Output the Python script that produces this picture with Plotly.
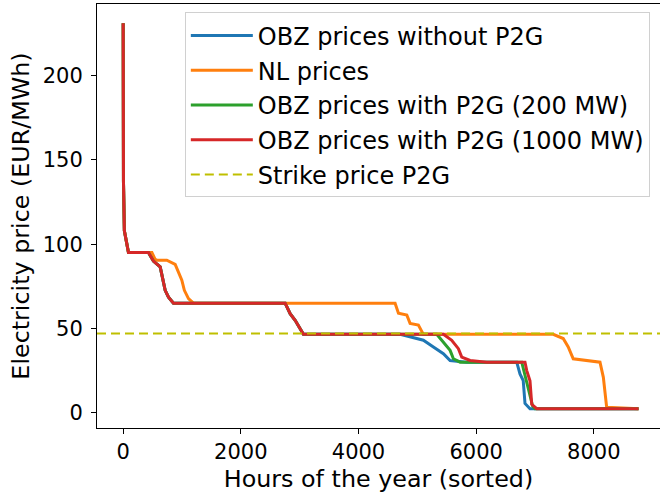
import plotly.graph_objects as go

# ---- data ----
common_hours = [0, 5, 20, 90, 430, 514, 629, 714, 770, 855, 2753, 2838, 2923, 3008, 3064]
common_prices = [231, 137, 108, 95, 95, 90, 86.5, 72.6, 68.6, 65, 65, 58.8, 54.8, 50, 46.5]

obz_no_p2g_hours = common_hours + [4707, 4900, 5103, 5273, 5443, 5557, 5840, 6690, 6745, 6800, 6830, 6915, 8760]
obz_no_p2g_prices = common_prices + [46.5, 45, 43, 39, 35, 31, 30, 30, 23, 19, 5.5, 2.4, 2.4]

nl_hours = [0, 5, 20, 90, 488, 544, 571, 741, 884, 997, 1040, 1110, 1195, 4622, 4679, 4821, 4877,
            5018, 5103, 7310, 7480, 7565, 7650, 7877, 8105, 8162, 8218, 8760]
nl_prices = [231, 137, 108, 95, 95, 91, 90.5, 90.5, 88, 78.6, 72.6, 67.7, 65, 65, 59, 58, 53,
             52, 46.5, 46.5, 44, 39, 32, 31, 30, 21, 3.3, 2.4]

obz_200_hours = common_hours + [5330, 5443, 5557, 5613, 5727, 6775, 6830, 6880, 6960, 7000, 8760]
obz_200_prices = common_prices + [46.5, 42, 37, 32, 30, 30, 22, 15, 4, 2.4, 2.4]

obz_1000_hours = common_hours + [5443, 5585, 5698, 5755, 5897, 6180, 6830, 6860, 6915, 6945, 7030, 8760]
obz_1000_prices = common_prices + [46.5, 43, 38, 33, 31, 30, 30, 25, 19, 5, 2.4, 2.4]

strike_price = 47

series_names = ["OBZ prices without P2G", "NL prices",
                "OBZ prices with P2G (200 MW)", "OBZ prices with P2G (1000 MW)"]
series_colors = ["#1f77b4", "#ff7f0e", "#2ca02c", "#d62728"]

x_range = [-445, 9125]
y_range = [-9.05, 242.45]

fig = go.Figure()
for i, (hx, py) in enumerate([(obz_no_p2g_hours, obz_no_p2g_prices),
                              (nl_hours, nl_prices),
                              (obz_200_hours, obz_200_prices),
                              (obz_1000_hours, obz_1000_prices)]):
    fig.add_trace(go.Scatter(x=hx, y=py, mode="lines", name=series_names[i],
                             legendgroup=f"g{i}",
                             line=dict(color=series_colors[i], width=3)))

fig.add_trace(go.Scatter(x=x_range, y=[strike_price, strike_price], mode="lines",
                         name="Strike price P2G", legendgroup="g4",
                         line=dict(color="#bfbf00", width=2, dash="9px,5px")))

fig.update_layout(
    width=660, height=493,
    margin=dict(l=97, r=0, t=4, b=65),
    paper_bgcolor="white", plot_bgcolor="white",
    font=dict(family="DejaVu Sans", color="black"),
    legend=dict(x=0.156, y=0.98, xanchor="left", yanchor="top",
                bgcolor="rgba(255,255,255,0.85)", bordercolor="#d0d0d0", borderwidth=1,
                font=dict(size=24, family="DejaVu Sans"),
                itemwidth=62,
                traceorder="grouped", tracegroupgap=0.5),
    showlegend=True,
)
fig.update_xaxes(range=x_range, showgrid=False, zeroline=False,
                 showline=True, linecolor="black", linewidth=1, mirror=True,
                 ticks="outside", ticklen=5, tickcolor="black",
                 tickvals=[0, 2000, 4000, 6000, 8000],
                 tickfont=dict(size=21),
                 title=dict(text="Hours of the year (sorted)", font=dict(size=23.8), standoff=8))
fig.update_yaxes(range=y_range, showgrid=False, zeroline=False,
                 showline=True, linecolor="black", linewidth=1, mirror=False,
                 ticks="outside", ticklen=5, tickcolor="black",
                 ticklabelstandoff=4,
                 tickvals=[0, 50, 100, 150, 200],
                 tickfont=dict(size=21),
                 title=dict(text="Electricity price (EUR/MWh)", font=dict(size=23.8), standoff=6))

fig.write_html("out.html")
